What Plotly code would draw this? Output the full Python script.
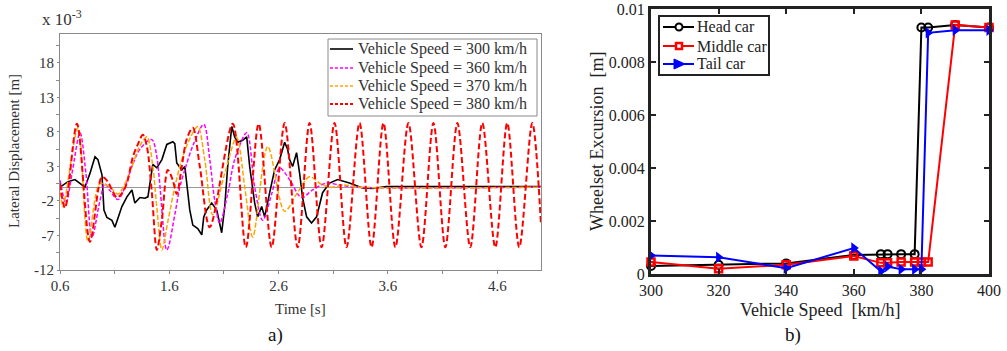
import plotly.graph_objects as go

# ---------------- data: panel a) lateral displacement (x 10^-3 m) ----------------
t_300 = [0.600, 0.673, 0.737, 0.783, 0.828, 0.874, 0.920, 0.947, 0.984, 1.002, 1.029, 1.075, 1.102, 1.130,
         1.166, 1.212, 1.258, 1.285, 1.331, 1.376, 1.404, 1.449, 1.486, 1.532, 1.577, 1.632, 1.650, 1.668,
         1.714, 1.742, 1.787, 1.815, 1.860, 1.897, 1.915, 1.942, 1.988, 2.034, 2.079, 2.107, 2.134, 2.171,
         2.198, 2.226, 2.271, 2.308, 2.335, 2.381, 2.408, 2.445, 2.472, 2.518, 2.563, 2.609, 2.655, 2.682,
         2.700, 2.728, 2.764, 2.792, 2.819, 2.856, 2.901, 2.947, 3.002, 3.066, 3.139, 3.248, 3.367, 3.458,
         3.586, 3.705, 5.000]
y_300 = [0.0, 0.8, 1.1, 0.6, 0.0, 2.0, 4.4, 4.0, 1.8, -3.3, -4.4, -4.8, -5.8, -4.5,
         -2.8, -1.4, -0.4, -2.3, -1.5, -1.6, -1.4, 3.3, 2.8, 4.0, 6.2, 6.6, 6.3, 3.5,
         2.5, 3.0, -3.3, -5.5, -6.0, -6.9, -4.3, -3.3, -2.3, -3.3, -6.6, -2.8, 3.0, 8.8,
         7.3, 6.5, 6.8, 7.3, 3.0, -2.3, -4.3, -2.8, -4.3, -0.8, 2.5, 4.0, 6.5, 5.5,
         4.0, 3.0, 5.0, 2.0, -1.5, -4.3, -5.2, -4.3, -0.8, 0.6, 1.1, 0.6, -0.1, -0.2,
         0.1, 0.1, 0.1]

t_360 = [0.600, 0.655, 0.710, 0.783, 0.837, 0.892, 0.965, 1.011, 1.057, 1.130, 1.194, 1.258, 1.331, 1.440,
         1.577, 1.650, 1.696, 1.751, 1.815, 1.915, 1.970, 2.016, 2.061, 2.134, 2.198, 2.308, 2.381, 2.454,
         2.536, 2.609, 2.700, 2.810, 2.911, 3.038, 3.157, 3.312, 5.000]
y_360 = [1.0, -2.3, 2.0, 7.9, 2.0, -7.3, -2.0, 0.5, -0.5, -1.8, 0.0, 3.0, 5.5, 6.9,
         -9.1, -4.0, 0.0, 3.0, 6.0, 9.1, 4.0, -2.0, -5.2, -1.0, 4.0, 7.9, 0.0, -4.8,
         -1.0, 2.8, 1.1, -1.5, -0.4, 0.6, 0.3, 0.0, 0.0]

t_370 = [0.600, 0.627, 0.764, 0.856, 0.965, 1.057, 1.130, 1.194, 1.258, 1.331, 1.395, 1.449, 1.486, 1.532,
         1.586, 1.650, 1.714, 1.787, 1.860, 1.924, 1.997, 2.107, 2.216, 2.290, 2.363, 2.500, 2.655, 2.764,
         2.883, 2.993, 3.084, 3.203, 3.340, 5.000]
y_370 = [0.3, -2.8, 8.6, -7.8, 0.5, 0.0, -1.0, 0.5, 3.0, 6.0, 7.3, 3.0, -3.0, -9.1,
         -5.0, 0.0, 4.0, 7.0, 8.8, 4.0, -4.0, 2.0, 7.2, 0.0, -7.2, 5.9, -3.5, -1.0,
         1.5, 0.4, 0.0, 0.3, 0.0, 0.0]

t_380 = [0.600, 0.646, 0.755, 0.874, 0.984, 1.038, 1.075, 1.121, 1.166, 1.212, 1.267, 1.312, 1.358, 1.395,
         1.440, 1.486, 1.532, 1.586, 1.632, 1.668, 1.714, 1.760, 1.815, 1.879, 1.970, 2.180, 2.300, 2.417,
         2.536, 2.655, 2.774, 2.883, 2.993, 3.111, 3.221, 3.340, 3.450, 3.559, 3.668, 3.787, 3.906, 4.016,
         4.125, 4.235, 4.353, 4.463, 4.582, 4.691, 4.801, 4.920, 5.000]
y_380 = [0.5, -3.0, 9.2, -7.9, 1.5, 0.8, -0.4, -1.5, -0.9, 0.6, 4.4, 6.2, 7.6, 5.9,
         -0.8, -9.1, -4.7, 2.5, 1.0, -1.0, 3.0, 7.0, 8.6, 3.0, -5.8, 9.2, -8.7, 9.2,
         -8.7, 9.3, -8.7, 9.3, -8.7, 9.3, -8.7, 9.3, -8.7, 9.3, -8.7, 9.3, -8.7, 9.3,
         -8.7, 9.3, -8.7, 9.3, -8.7, 9.3, -8.7, 9.3, -5.5]

a_names = ["Vehicle Speed = 300 km/h", "Vehicle Speed = 360 km/h",
           "Vehicle Speed = 370 km/h", "Vehicle Speed = 380 km/h"]
a_yticks = [-12, -7, -2, 3, 8, 13, 18]
a_xticks = [0.6, 1.6, 2.6, 3.6, 4.6]

# ---------------- data: panel b) wheelset excursion (m) ----------------
speed_head = [300, 320, 340, 360, 368, 370, 374, 378, 380, 382, 390, 400]
head_car = [0.0003, 0.00035, 0.0004, 0.00072, 0.00075, 0.00075, 0.00075, 0.00075, 0.0093, 0.0093, 0.0094, 0.0093]
speed_mid = [300, 320, 340, 360, 368, 370, 374, 378, 380, 382, 390, 400]
middle_car = [0.00045, 0.0002, 0.00035, 0.00068, 0.00042, 0.00042, 0.00045, 0.00045, 0.00045, 0.00045, 0.0094, 0.0093]
speed_tail = [300, 320, 340, 360, 368, 370, 374, 378, 380, 382, 390, 400]
tail_car = [0.0007, 0.00063, 0.00022, 0.00098, 0.0001, 0.00028, 0.00018, 0.00018, 0.00018, 0.0091, 0.0092, 0.0092]
b_names = ["Head car", "Middle car", "Tail car"]
b_xticks = [300, 320, 340, 360, 380, 400]
b_yticks = [0, 0.002, 0.004, 0.006, 0.008, 0.01]
b_yticktext = ["0", "0.002", "0.004", "0.006", "0.008", "0.01"]

W, H = 1007, 351
SERIF = "Liberation Serif"


def px(x):
    return x / W


def py(y):
    return (H - y) / H


fig = go.Figure()

a_styles = [
    dict(color="#000000", width=1.6, dash="solid"),
    dict(color="#ff00ff", width=1.5, dash="4px,2px"),
    dict(color="#ffa500", width=1.5, dash="5px,2px"),
    dict(color="#ff0000", width=2.0, dash="6px,3px"),
]
a_data = [(t_300, y_300), (t_360, y_360), (t_370, y_370), (t_380, y_380)]
for (tx, ty), name, st in zip(a_data, a_names, a_styles):
    fig.add_trace(go.Scatter(
        x=tx, y=ty, mode="lines", name=name, showlegend=False,
        line=dict(color=st["color"], width=st["width"], dash=st["dash"],
                  shape="linear" if st["dash"] == "solid" else "spline", smoothing=0.9),
        xaxis="x", yaxis="y"))

b_styles = [
    dict(color="#000000", symbol="circle-open", size=8, lw=2),
    dict(color="#ff0000", symbol="square-open", size=7, lw=2.5),
    dict(color="#0000ff", symbol="triangle-right", size=10, lw=0),
]
b_data = [(speed_head, head_car), (speed_mid, middle_car), (speed_tail, tail_car)]
for (sx, sy), name, st in zip(b_data, b_names, b_styles):
    fig.add_trace(go.Scatter(
        x=sx, y=sy, name=name, mode="lines+markers", showlegend=False,
        line=dict(color=st["color"], width=2),
        marker=dict(symbol=st["symbol"], size=st["size"], color=st["color"],
                    line=dict(width=st["lw"], color=st["color"])),
        xaxis="x2", yaxis="y2", cliponaxis=False))

gray = "#8a8a8a"
txt_a = "#333333"
fig.update_layout(
    width=W, height=H, autosize=False,
    margin=dict(l=0, r=0, t=0, b=0, autoexpand=False),
    paper_bgcolor="white", plot_bgcolor="white",
    font=dict(family=SERIF, size=15, color="#222"),
    showlegend=False,
    xaxis=dict(domain=[px(60), px(541)], range=[0.6, 5.0], anchor="y", automargin=False,
               tickvals=a_xticks, ticktext=[str(v) for v in a_xticks],
               showline=True, linecolor=gray, linewidth=1, mirror=True,
               ticks="outside", ticklen=2, tickcolor=gray,
               minor=dict(tick0=0.6, dtick=0.5, ticks="outside", ticklen=3, tickcolor=gray),
               showgrid=False, zeroline=False,
               tickfont=dict(family=SERIF, size=15, color=txt_a)),
    yaxis=dict(domain=[py(270), py(34)], range=[-12, 22.2], anchor="x", automargin=False,
               tickvals=a_yticks, ticktext=[str(v) for v in a_yticks],
               showline=True, linecolor=gray, linewidth=1, mirror=True,
               ticks="outside", ticklen=2, tickcolor=gray,
               minor=dict(tick0=-9.5, dtick=5, ticks="outside", ticklen=3, tickcolor=gray),
               showgrid=False, zeroline=True, zerolinecolor="#999999", zerolinewidth=1,
               tickfont=dict(family=SERIF, size=15, color=txt_a)),
    xaxis2=dict(domain=[px(651), px(989)], range=[300, 400], anchor="y2", automargin=False,
                tickvals=b_xticks, ticktext=[str(v) for v in b_xticks],
                showline=True, linecolor="#222", linewidth=3, mirror="allticks",
                ticks="inside", ticklen=5, tickwidth=2, tickcolor="#222",
                showgrid=False, zeroline=False,
                tickfont=dict(family=SERIF, size=16, color="#222")),
    yaxis2=dict(domain=[py(274), py(9)], range=[0, 0.01], anchor="x2", automargin=False,
                tickvals=b_yticks, ticktext=b_yticktext,
                showline=True, linecolor="#222", linewidth=3, mirror="allticks",
                ticks="inside", ticklen=5, tickwidth=2, tickcolor="#222",
                showgrid=False, zeroline=False,
                tickfont=dict(family=SERIF, size=16, color="#222")),
)

shapes = []
ann = []

# ---- legend for panel a (drawn as a boxed key) ----
shapes.append(dict(type="rect", xref="paper", yref="paper", layer="above",
                   x0=px(328), x1=px(537), y0=py(116), y1=py(39),
                   line=dict(color=gray, width=1), fillcolor="white"))
a_rows = [49, 68, 86, 104]
for name, st, ry in zip(a_names, a_styles, a_rows):
    shapes.append(dict(type="line", xref="paper", yref="paper", layer="above",
                       x0=px(330), x1=px(353), y0=py(ry), y1=py(ry),
                       line=dict(color=st["color"], width=st["width"],
                                 dash="solid" if st["dash"] == "solid" else "3px,2px")))
    ann.append(dict(text=name, x=px(356), y=py(ry), xanchor="left", yanchor="middle",
                    font=dict(size=16, color=txt_a)))

# ---- legend for panel b ----
shapes.append(dict(type="rect", xref="paper", yref="paper", layer="above",
                   x0=px(659), x1=px(769), y0=py(75), y1=py(16),
                   line=dict(color="#222", width=2), fillcolor="white"))
b_rows = [27, 46, 64]
for name, st, ry in zip(b_names, b_styles, b_rows):
    shapes.append(dict(type="line", xref="paper", yref="paper", layer="above",
                       x0=px(663), x1=px(694), y0=py(ry), y1=py(ry),
                       line=dict(color=st["color"], width=2)))
    ann.append(dict(text=name, x=px(695), y=py(ry), xanchor="left", yanchor="middle",
                    font=dict(size=16, color="#222")))
# legend symbols
cx = 679
shapes.append(dict(type="circle", xref="paper", yref="paper", layer="above",
                   x0=px(cx - 3.5), x1=px(cx + 3.5), y0=py(b_rows[0] + 3.5), y1=py(b_rows[0] - 3.5),
                   line=dict(color="#000", width=2), fillcolor="white"))
shapes.append(dict(type="rect", xref="paper", yref="paper", layer="above",
                   x0=px(cx - 3), x1=px(cx + 3), y0=py(b_rows[1] + 3), y1=py(b_rows[1] - 3),
                   line=dict(color="#ff0000", width=2.5), fillcolor="white"))
tx0, ty0 = px(cx - 5), py(b_rows[2] - 5)
tx1, ty1 = px(cx - 5), py(b_rows[2] + 5)
tx2, ty2 = px(cx + 6), py(b_rows[2])
shapes.append(dict(type="path", xref="paper", yref="paper", layer="above",
                   path=f"M {tx0} {ty0} L {tx1} {ty1} L {tx2} {ty2} Z",
                   line=dict(color="#0000ff", width=1), fillcolor="#0000ff"))

ann += [
    dict(text="x 10<sup>-3</sup>", x=px(40), y=py(18), xanchor="left", yanchor="middle",
         font=dict(size=17, color=txt_a)),
    dict(text="Lateral Displacement [m]", x=px(14), y=py(151), textangle=-90,
         xanchor="center", yanchor="middle", font=dict(size=15, color=txt_a)),
    dict(text="Time [s]", x=px(300), y=py(309), xanchor="center", yanchor="middle",
         font=dict(size=15, color=txt_a)),
    dict(text="a)", x=px(275), y=py(335), xanchor="center", yanchor="middle",
         font=dict(size=19, color="#111")),
    dict(text="Wheelset Excursion  [m]", x=px(597), y=py(142), textangle=-90,
         xanchor="center", yanchor="middle", font=dict(size=18, color="#222")),
    dict(text="Vehicle Speed  [km/h]", x=px(820), y=py(310), xanchor="center", yanchor="middle",
         font=dict(size=18, color="#222")),
    dict(text="b)", x=px(793), y=py(335), xanchor="center", yanchor="middle",
         font=dict(size=19, color="#111")),
]
for a in ann:
    a.update(xref="paper", yref="paper", showarrow=False)
    a["font"]["family"] = SERIF
fig.update_layout(shapes=shapes, annotations=ann)

fig.write_html("out.html",
               config={"displayModeBar": False},
               post_script="document.body.style.margin='0px';document.body.style.overflow='hidden';")
